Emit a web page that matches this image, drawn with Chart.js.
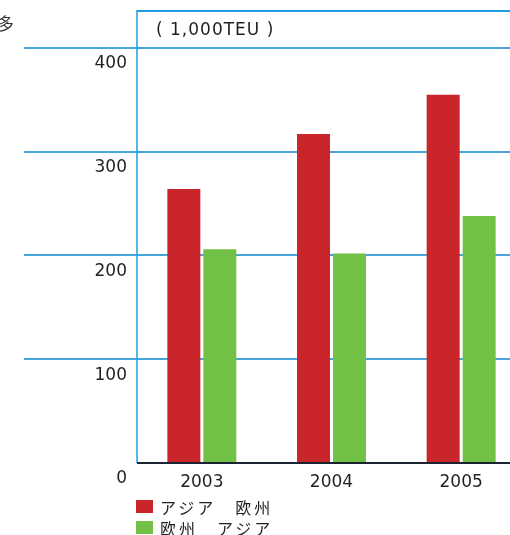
<!DOCTYPE html>
<html>
<head>
<meta charset="utf-8">
<script src="https://cdn.jsdelivr.net/npm/chart.js@4"></script>
<style>
  html, body { margin: 0; padding: 0; background: #fff; }
  #wrap { position: relative; width: 510px; height: 535px; overflow: hidden; background: #fff; }
  #c { position: absolute; left: 0; top: 0; }
  #cut { position: absolute; left: -3px; top: 10px; font: 17px "Noto Sans CJK JP"; color: #333; }
  #legend { position: absolute; left: 136px; top: 496px; font: 16px "Noto Sans CJK JP"; color: #231f20; letter-spacing: 3px; }
  .item { display: flex; align-items: center; height: 21px; }
  .sw { width: 17px; height: 13px; margin-right: 7px; }
</style>
</head>
<body>
<div id="wrap">
  <canvas id="c" width="526" height="535"></canvas>
  <div id="cut">多</div>
  <div id="legend"></div>
</div>
<script>
const categories = ['2003', '2004', '2005'];
const asiaToEurope = [264, 317, 355];
const europeToAsia = [206, 202, 238];
const yTicks = [0, 100, 200, 300, 400];
const seriesLabels = ['アジア　欧州', '欧州　アジア'];
const seriesColors = ['#cb252c', '#72c045'];
const unitLabel = '( 1,000TEU )';

const framePlugin = {
  id: 'frame',
  beforeDatasetsDraw(chart) {
    const ctx = chart.ctx, a = chart.chartArea, y = chart.scales.y;
    ctx.save();
    ctx.strokeStyle = '#47a5dc';
    ctx.lineWidth = 2;
    yTicks.forEach(v => {
      if (v === 0) return;
      const py = Math.round(y.getPixelForValue(v));
      ctx.beginPath(); ctx.moveTo(24, py); ctx.lineTo(510, py); ctx.stroke();
    });
    ctx.strokeStyle = '#1e9fe3';
    ctx.beginPath(); ctx.moveTo(a.left, a.top + 1); ctx.lineTo(510, a.top + 1); ctx.stroke();
    ctx.lineWidth = 1.5;
    ctx.beginPath(); ctx.moveTo(a.left, a.top); ctx.lineTo(a.left, a.bottom); ctx.stroke();
    ctx.fillStyle = '#231f20';
    ctx.font = '17px "DejaVu Sans"';
    if ('letterSpacing' in ctx) ctx.letterSpacing = '1px';
    ctx.textBaseline = 'middle';
    ctx.textAlign = 'left';
    ctx.fillText(unitLabel, a.left + 19, 31);
    ctx.restore();
  },
  afterDatasetsDraw(chart) {
    const ctx = chart.ctx, a = chart.chartArea;
    ctx.save();
    ctx.strokeStyle = '#1c2433';
    ctx.lineWidth = 2;
    ctx.beginPath(); ctx.moveTo(a.left, a.bottom); ctx.lineTo(510, a.bottom); ctx.stroke();
    ctx.restore();
  }
};

const chart = new Chart(document.getElementById('c'), {
  type: 'bar',
  data: {
    labels: categories,
    datasets: [
      { label: seriesLabels[0], data: asiaToEurope, backgroundColor: seriesColors[0] },
      { label: seriesLabels[1], data: europeToAsia, backgroundColor: seriesColors[1] }
    ]
  },
  options: {
    responsive: false,
    animation: false,
    devicePixelRatio: 1,
    layout: { padding: { top: 10, left: 0, right: 0, bottom: 0 } },
    categoryPercentage: 0.555,
    barPercentage: 0.9167,
    plugins: { legend: { display: false }, tooltip: { enabled: false }, title: { display: false } },
    scales: {
      x: {
        grid: { display: false, drawTicks: false },
        border: { display: false },
        ticks: { color: '#231f20', font: { family: 'DejaVu Sans', size: 17 }, padding: 9 },
        afterFit(s) { s.height = 72; s.paddingLeft = 0; s.paddingRight = 0; }
      },
      y: {
        min: 0,
        max: 436.6,
        grid: { display: false, drawTicks: false },
        border: { display: false },
        afterBuildTicks(s) { s.ticks = yTicks.map(v => ({ value: v })); },
        ticks: { color: '#231f20', font: { family: 'DejaVu Sans', size: 17 }, padding: 10, labelOffset: 16 },
        afterFit(s) { s.width = 137; s.paddingTop = 0; s.paddingBottom = 0; }
      }
    }
  },
  plugins: [framePlugin]
});

const legend = document.getElementById('legend');
chart.data.datasets.forEach(ds => {
  const item = document.createElement('div');
  item.className = 'item';
  const sw = document.createElement('div');
  sw.className = 'sw';
  sw.style.background = ds.backgroundColor;
  const t = document.createElement('span');
  t.textContent = ds.label;
  item.appendChild(sw); item.appendChild(t);
  legend.appendChild(item);
});
</script>
</body>
</html>
